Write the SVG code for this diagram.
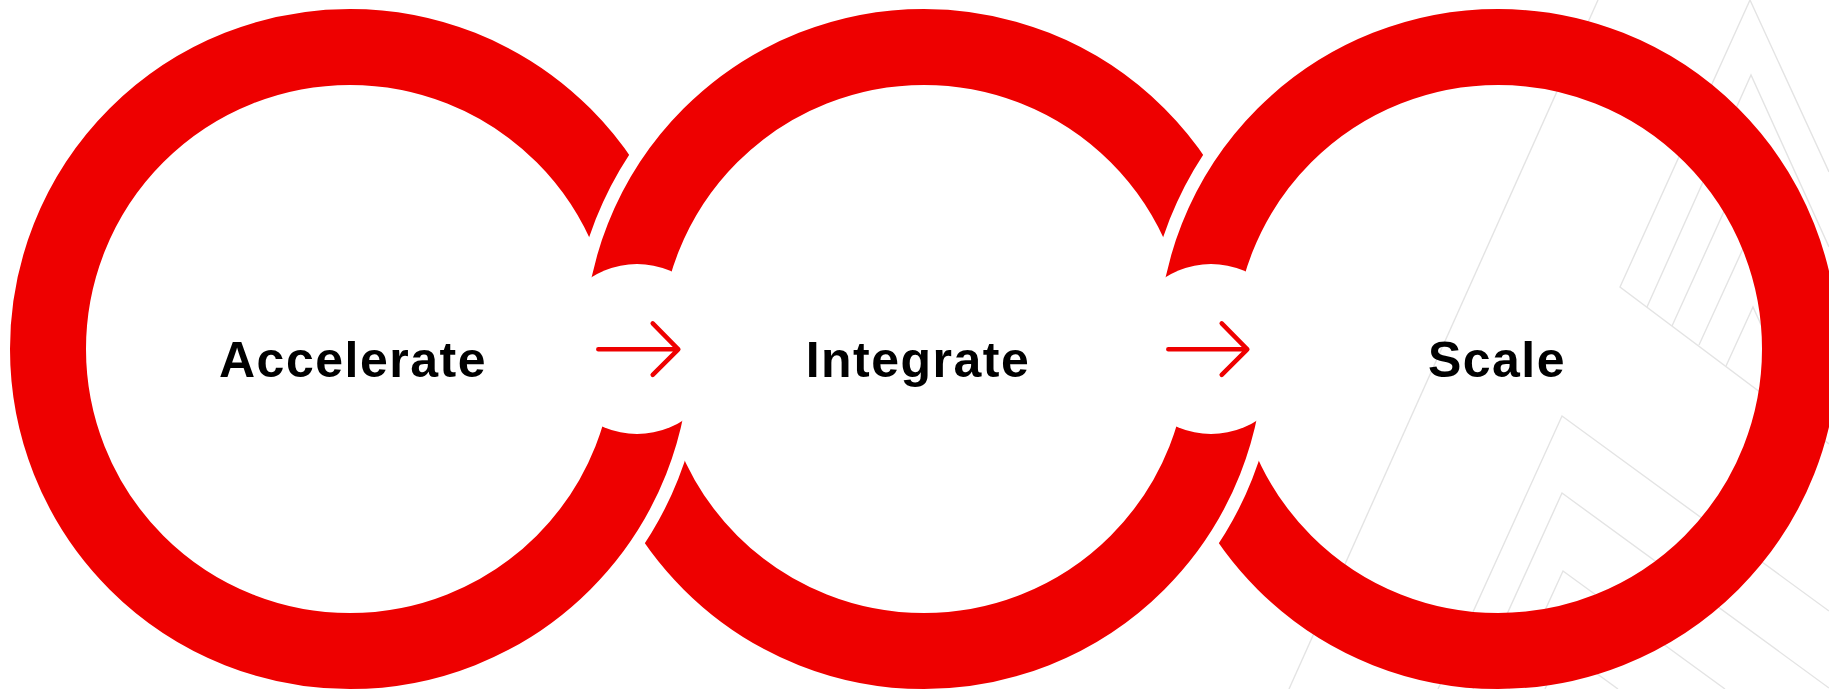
<svg xmlns="http://www.w3.org/2000/svg" xmlns:xlink="http://www.w3.org/1999/xlink" width="1829" height="689" viewBox="0 0 1829 689">
  <style>
    .ring { fill: none; stroke: #EE0000; stroke-width: 76; }
    .halo { fill: none; stroke: #FFFFFF; stroke-width: 102; }
    .bg { fill: none; stroke: #E4E4E4; stroke-width: 1.4; }
    .arrow { fill: none; stroke: #EE0000; stroke-width: 4.5; stroke-linecap: round; stroke-linejoin: round; }
    .hole { fill: #FFFFFF; }
    .label { font-family: "Liberation Sans", Arial, sans-serif; font-weight: 700; font-size: 50px; letter-spacing: 1.5px; fill: #000000; text-anchor: middle; }
  </style>
  <defs>
    <clipPath id="clipR3halo"><rect x="1100" y="0" width="200" height="689"/></clipPath>
    <clipPath id="clipR2low"><rect x="924" y="349" width="400" height="340"/></clipPath>
    <clipPath id="clipR1low"><rect x="350" y="349" width="400" height="340"/></clipPath>
  </defs>
  <rect x="0" y="0" width="1829" height="689" fill="#FFFFFF"/>

  <g id="background">
    <line class="bg" x1="1598" y1="0" x2="1289" y2="689"/>
    <polyline class="bg" points="1829,172 1750,0 1620,287 1829,444"/>
    <polyline class="bg" points="1829,247 1751,75 1647,307"/>
    <polyline class="bg" points="1829,324 1751,152 1672,326"/>
    <polyline class="bg" points="1829,398 1752,229 1699,345"/>
    <polyline class="bg" points="1808,429 1753,307 1726,366"/>
    <polyline class="bg" points="1438,689 1562,416 1829,611"/>
    <polyline class="bg" points="1473,689 1562,493 1829,688"/>
    <polyline class="bg" points="1509,689 1563,571 1725,689"/>
    <polyline class="bg" points="1545,689 1563,649 1618,689"/>
  </g>

  <g id="node-accelerate">
    <circle id="ring1" class="ring" cx="350" cy="349" r="302"/>
    <text class="label" x="353" y="377">Accelerate</text>
  </g>

  <g id="node-integrate">
    <circle class="halo" cx="924" cy="349" r="302"/>
    <circle id="ring2" class="ring" cx="924" cy="349" r="302"/>
    <text class="label" x="918" y="377">Integrate</text>
  </g>

  <g id="node-scale">
    <circle class="halo" cx="1498" cy="349" r="302" clip-path="url(#clipR3halo)"/>
    <circle id="ring3" class="ring" cx="1498" cy="349" r="302"/>
    <text class="label" x="1497" y="377">Scale</text>
  </g>

  <g id="interlock">
    <g clip-path="url(#clipR2low)">
      <circle class="halo" cx="924" cy="349" r="302"/>
      <circle class="ring" cx="924" cy="349" r="302"/>
    </g>
    <g clip-path="url(#clipR1low)">
      <circle class="halo" cx="350" cy="349" r="302"/>
      <circle class="ring" cx="350" cy="349" r="302"/>
    </g>
  </g>

  <g id="connectors">
    <circle class="hole" cx="637" cy="349" r="85"/>
    <circle class="hole" cx="1211" cy="349" r="85"/>
    <path class="arrow" d="M598.3,349.3 H678.3 M652.7,323.3 L678.3,349.3 L652.7,374.8"/>
    <path class="arrow" d="M1168.3,349.3 H1247.3 M1221.7,323.3 L1247.3,349.3 L1221.7,374.8"/>
  </g>
</svg>
